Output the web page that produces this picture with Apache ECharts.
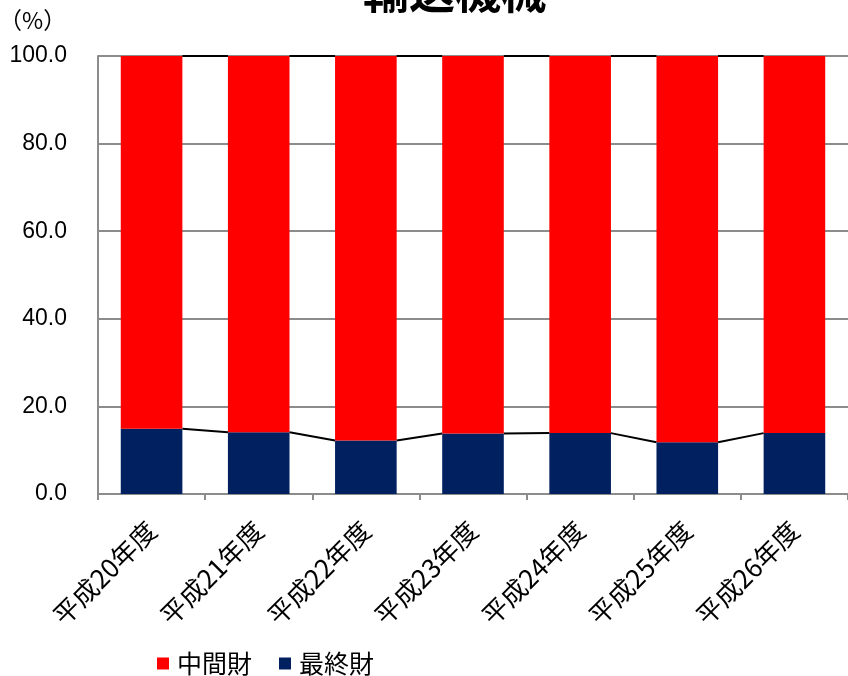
<!DOCTYPE html>
<html><head><meta charset="utf-8">
<script src="https://cdn.jsdelivr.net/npm/echarts@6/dist/echarts.min.js"></script>
<style>html,body{margin:0;padding:0;background:#fff}#c{width:848px;height:676px}</style>
</head><body><div id="c"></div>
<script>
const categories = ['平成20年度','平成21年度','平成22年度','平成23年度','平成24年度','平成25年度','平成26年度'];
const finalGoods = [14.9, 14.1, 12.2, 13.8, 13.9, 11.8, 13.9];
const intermediateGoods = [85.1, 85.9, 87.8, 86.2, 86.1, 88.2, 86.1];
const yTicks = [0, 20, 40, 60, 80, 100];

const GAP = 0.425;
const lineData = [];
for (let i = 0; i < categories.length - 1; i++) {
  lineData.push([i, finalGoods[i], finalGoods[i+1], finalGoods[i] + intermediateGoods[i], finalGoods[i+1] + intermediateGoods[i+1]]);
}
const chart = echarts.init(document.getElementById('c'));
chart.setOption({
  animation: false,
  title: { text: '輸送機械', left: 363, top: -32, padding: 0,
    textStyle: { fontFamily: 'Noto Sans CJK JP', fontSize: 46, fontWeight: 'bold', color: '#000' } },
  graphic: [{ type: 'text', left: -1, top: 9, style: { text: '（%）', font: '23px "Noto Sans CJK JP"', fill: '#000' } }],
  legend: { data: ['中間財','最終財'], left: 157, top: 651, padding: 0, itemWidth: 12, itemHeight: 12, itemGap: 27, icon: 'rect',
    textStyle: { fontFamily: 'Noto Sans CJK JP', fontSize: 25, color: '#000', padding: [0,0,0,3] } },
  grid: { left: 98, right: 0, top: 56, bottom: 182, containLabel: false },
  xAxis: { type: 'category', data: categories,
    axisLine: { lineStyle: { color: '#8c8c8c', width: 2 } },
    axisTick: { show: true, length: 6, lineStyle: { color: '#8c8c8c', width: 2 } },
    axisLabel: { rotate: 45, margin: 32, fontFamily: 'Noto Sans CJK JP', fontSize: 26, color: '#000', interval: 0 } },
  yAxis: { type: 'value', min: 0, max: 100, interval: 20,
    axisLine: { show: true, lineStyle: { color: '#8c8c8c', width: 2 } },
    axisTick: { show: false },
    splitLine: { lineStyle: { color: '#8c8c8c', width: 2 } },
    axisLabel: { margin: 31, fontFamily: 'Liberation Sans', fontSize: 23, color: '#000', formatter: v => v.toFixed(1) } },
  series: [
    { name: '最終財', type: 'bar', stack: 's', data: finalGoods, barCategoryGap: (GAP*100)+'%', itemStyle: { color: '#002060' } },
    { name: '中間財', type: 'bar', stack: 's', data: intermediateGoods, itemStyle: { color: '#ff0000' } },
    { type: 'custom', data: lineData, z: 5, silent: true,
      renderItem: function (params, api) {
        const i = api.value(0);
        const band = api.size([1, 0])[0];
        const hb = band * (1 - GAP) / 2;
        const children = [];
        [[1,2],[3,4]].forEach(function (p) {
          const a = api.coord([i, api.value(p[0])]);
          const b = api.coord([i + 1, api.value(p[1])]);
          children.push({ type: 'line', shape: { x1: a[0] + hb, y1: a[1], x2: b[0] - hb, y2: b[1] },
            style: { stroke: '#000', lineWidth: 2 } });
        });
        return { type: 'group', children: children };
      },
      encode: { x: 0, y: 1 } }
  ]
});
</script></body></html>
